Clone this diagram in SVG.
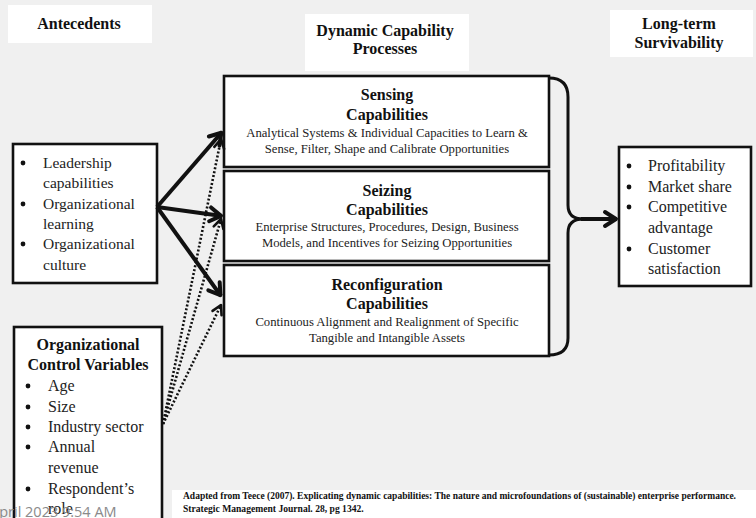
<svg xmlns="http://www.w3.org/2000/svg" width="756" height="518" viewBox="0 0 756 518">
  <style>
    .box { fill: #ffffff; stroke: #111111; stroke-width: 2.6; }
    .label { fill: #ffffff; }
    .hdr { font-family: "Liberation Serif", "Times New Roman", serif; font-weight: bold; font-size: 16px; fill: #111111; text-anchor: middle; }
    .ttl { font-family: "Liberation Serif", "Times New Roman", serif; font-weight: bold; font-size: 16px; fill: #111111; text-anchor: middle; }
    .desc { font-family: "Liberation Serif", "Times New Roman", serif; font-size: 12.7px; fill: #222222; text-anchor: middle; }
    .item { font-family: "Liberation Serif", "Times New Roman", serif; font-size: 15.5px; fill: #222222; }
    .item16 { font-family: "Liberation Serif", "Times New Roman", serif; font-size: 16px; fill: #222222; }
    .cite { font-family: "Liberation Serif", "Times New Roman", serif; font-weight: bold; font-size: 9.6px; fill: #111111; }
    .solid { fill: none; stroke: #111111; stroke-width: 4; marker-end: url(#vhead); }
    .dotted { fill: none; stroke: #111111; stroke-width: 2.6; stroke-dasharray: 2 2; marker-end: url(#vhead-sm); }
    .bracket { fill: none; stroke: #111111; stroke-width: 3; }
  </style>
  <defs>
    <marker id="vhead" markerUnits="userSpaceOnUse" viewBox="-20 -20 40 40" markerWidth="40" markerHeight="40" refX="0" refY="0" orient="auto">
      <path d="M-12,-7 L-1,0 L-12,7" fill="none" stroke="#111111" stroke-width="4" stroke-linejoin="round" stroke-linecap="round"/>
    </marker>
    <marker id="vhead-sm" markerUnits="userSpaceOnUse" viewBox="-20 -20 40 40" markerWidth="40" markerHeight="40" refX="0" refY="0" orient="auto">
      <path d="M-9,-5 L0,0 L-9,5" fill="none" stroke="#111111" stroke-width="2.6" stroke-linejoin="round" stroke-linecap="round"/>
    </marker>
  </defs>

  <!-- page -->
  <rect x="0" y="0" width="756" height="518" fill="#f0f0f0"/>

  <!-- column headings -->
  <g id="heading-antecedents">
    <rect class="label" x="8" y="5" width="144" height="38"/>
    <text class="hdr" x="79" y="29">Antecedents</text>
  </g>
  <g id="heading-processes">
    <rect class="label" x="305" y="14" width="164" height="57"/>
    <text class="hdr" x="385" y="36">Dynamic Capability</text>
    <text class="hdr" x="385" y="54">Processes</text>
  </g>
  <g id="heading-survivability">
    <rect class="label" x="610" y="10" width="143" height="47"/>
    <text class="hdr" x="679" y="29">Long-term</text>
    <text class="hdr" x="679" y="48">Survivability</text>
  </g>

  <!-- antecedents -->
  <g id="antecedents">
    <rect class="box" x="13" y="144" width="144" height="139"/>
    <g class="item">
      <circle cx="23" cy="163" r="2.4" fill="#111"/>
      <circle cx="23" cy="204" r="2.4" fill="#111"/>
      <circle cx="23" cy="244" r="2.4" fill="#111"/>
      <text x="43" y="168">Leadership</text>
      <text x="43" y="188">capabilities</text>
      <text x="43" y="209">Organizational</text>
      <text x="43" y="229">learning</text>
      <text x="43" y="249">Organizational</text>
      <text x="43" y="270">culture</text>
    </g>
  </g>

  <!-- control variables -->
  <g id="control-variables">
    <rect class="box" x="14" y="327" width="148" height="200"/>
    <text class="ttl" x="88" y="350">Organizational</text>
    <text class="ttl" x="88" y="370">Control Variables</text>
    <g class="item16">
      <circle cx="28" cy="386" r="2.4" fill="#111"/>
      <circle cx="28" cy="407" r="2.4" fill="#111"/>
      <circle cx="28" cy="427" r="2.4" fill="#111"/>
      <circle cx="28" cy="447" r="2.4" fill="#111"/>
      <circle cx="28" cy="489" r="2.4" fill="#111"/>
      <text x="48" y="391">Age</text>
      <text x="48" y="412">Size</text>
      <text x="48" y="432">Industry sector</text>
      <text x="48" y="452">Annual</text>
      <text x="48" y="473">revenue</text>
      <text x="48" y="494">Respondent’s</text>
      <text x="48" y="514">role</text>
    </g>
  </g>

  <!-- capability processes -->
  <g id="sensing">
    <rect class="box" x="224" y="76" width="325" height="91"/>
    <text class="ttl" x="387" y="100">Sensing</text>
    <text class="ttl" x="387" y="120">Capabilities</text>
    <text class="desc" x="387" y="137">Analytical Systems &amp; Individual Capacities to Learn &amp;</text>
    <text class="desc" x="387" y="153">Sense, Filter, Shape and Calibrate Opportunities</text>
  </g>
  <g id="seizing">
    <rect class="box" x="224" y="171" width="325" height="90"/>
    <text class="ttl" x="387" y="196">Seizing</text>
    <text class="ttl" x="387" y="215">Capabilities</text>
    <text class="desc" x="387" y="231">Enterprise Structures, Procedures, Design, Business</text>
    <text class="desc" x="387" y="247">Models, and Incentives for Seizing Opportunities</text>
  </g>
  <g id="reconfiguration">
    <rect class="box" x="224" y="265" width="325" height="91"/>
    <text class="ttl" x="387" y="290">Reconfiguration</text>
    <text class="ttl" x="387" y="309">Capabilities</text>
    <text class="desc" x="387" y="326">Continuous Alignment and Realignment of Specific</text>
    <text class="desc" x="387" y="342">Tangible and Intangible Assets</text>
  </g>

  <!-- outcomes -->
  <g id="survivability">
    <rect class="box" x="619" y="147" width="132" height="139"/>
    <g class="item16">
      <circle cx="629" cy="166" r="2.4" fill="#111"/>
      <circle cx="629" cy="187" r="2.4" fill="#111"/>
      <circle cx="629" cy="207" r="2.4" fill="#111"/>
      <circle cx="629" cy="249" r="2.4" fill="#111"/>
      <text x="648" y="171">Profitability</text>
      <text x="648" y="192">Market share</text>
      <text x="648" y="212">Competitive</text>
      <text x="648" y="233">advantage</text>
      <text x="648" y="254">Customer</text>
      <text x="648" y="274">satisfaction</text>
    </g>
  </g>

  <!-- connectors -->
  <g id="connectors">
    <path class="solid" d="M157,207 L222,132"/>
    <path class="solid" d="M157,207 L222,216"/>
    <path class="solid" d="M157,207 L221,296"/>
    <path class="dotted" d="M163,424 L221,139"/>
    <path class="dotted" d="M163,424 L221,219"/>
    <path class="dotted" d="M163,424 L221,305"/>
    <path class="bracket" d="M549,78 Q568,78 568,97 L568,205 Q568,219 583,219"/>
    <path class="bracket" d="M549,355 Q568,355 568,338 L568,233 Q568,219 583,219"/>
    <path class="solid" d="M581,219 L617,219"/>
  </g>

  <!-- source note -->
  <g id="citation">
    <rect class="label" x="172" y="490" width="584" height="28"/>
    <text class="cite" x="183" y="499" textLength="553" lengthAdjust="spacingAndGlyphs">Adapted from Teece (2007). Explicating dynamic capabilities: The nature and microfoundations of (sustainable) enterprise performance.</text>
    <text class="cite" x="183" y="512">Strategic Management Journal. 28, pg 1342.</text>
  </g>

  <!-- timestamp overlay -->
  <text x="-10" y="517" font-family="'Open Sans', 'Noto Sans', sans-serif" font-size="14.5px" fill="#8a8a8a">April 2023 9:54 AM</text>
</svg>
